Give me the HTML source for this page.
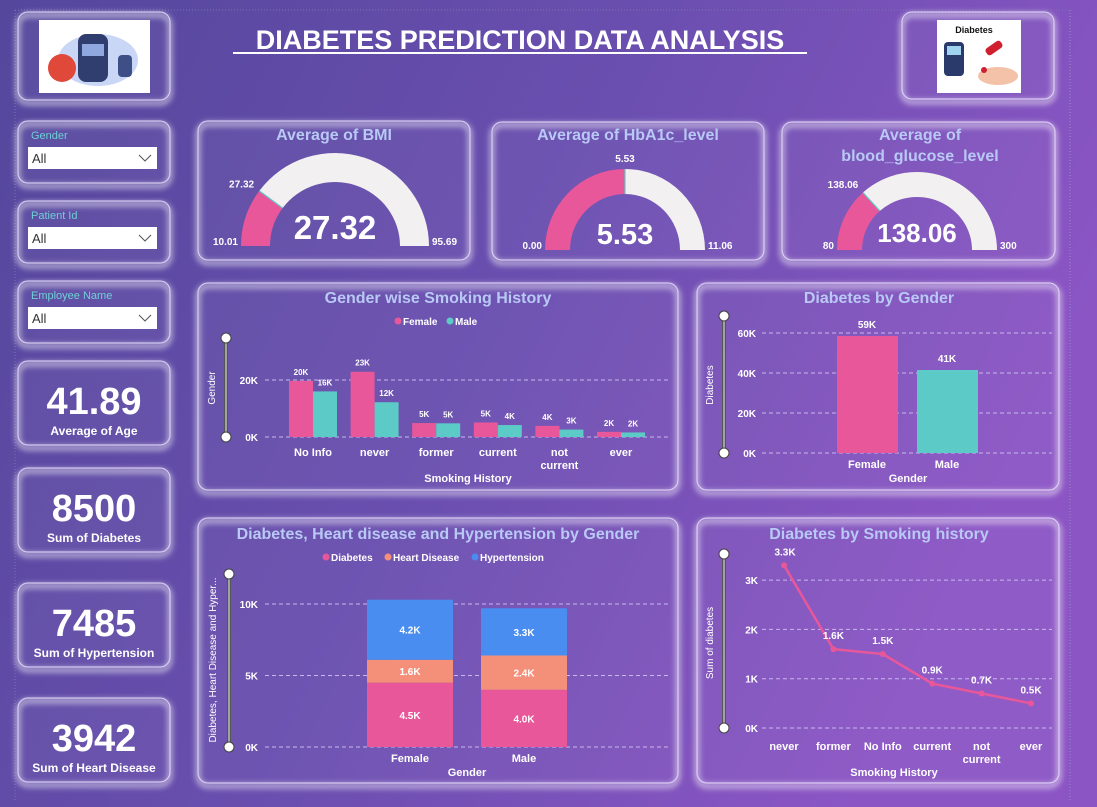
<!DOCTYPE html>
<html><head><meta charset="utf-8"><style>
html,body{margin:0;padding:0;width:1097px;height:807px;overflow:hidden;background:#6a4eb0}
svg{display:block;font-family:"Liberation Sans",Arial,sans-serif}
</style></head><body>
<svg id="s" width="1097" height="807" viewBox="0 0 1097 807">
<defs>
<linearGradient id="bg" x1="0" y1="0" x2="1" y2="0.35">
<stop offset="0" stop-color="#54479c"/><stop offset="0.55" stop-color="#6b4fb0"/><stop offset="1" stop-color="#8b55c4"/></linearGradient>
<filter id="glow" x="-10%" y="-10%" width="120%" height="125%"><feGaussianBlur stdDeviation="3"/></filter>
</defs>
<rect width="1097" height="807" fill="url(#bg)"/>
<line x1="15" y1="10" x2="1070" y2="10" stroke="#7c74b0" stroke-dasharray="1 2"/>
<line x1="15" y1="10" x2="15" y2="800" stroke="#7c74b0" stroke-dasharray="1 2"/>
<line x1="1070" y1="10" x2="1070" y2="800" stroke="#9a88c8" stroke-dasharray="1 2"/>
<g id="cards"></g>
<g id="content"></g>
</svg>
<script>
const NS='http://www.w3.org/2000/svg';
function mk(parent,tag,attrs,text){const e=document.createElementNS(NS,tag);for(const k in attrs)e.setAttribute(k,attrs[k]);if(text!==undefined)e.textContent=text;parent.appendChild(e);return e;}
const cardsG=document.getElementById('cards');const C=document.getElementById('content');
function card(x,y,w,h,name){
 mk(cardsG,'rect',{x:x,y:y+3,width:w,height:h,rx:10,fill:'none',stroke:'rgba(255,255,255,0.55)','stroke-width':5,filter:'url(#glow)'});
 const r=mk(cardsG,'rect',{x:x,y:y,width:w,height:h,rx:10,fill:'rgba(255,255,255,0.04)',stroke:'rgba(235,225,255,0.75)','stroke-width':1.2});
 
 
}
function txt(x,y,s,opts,name){const o=Object.assign({'font-size':11,fill:'#fff','font-weight':'bold','text-anchor':'middle'},opts||{});o.x=x;o.y=y;const t=mk(C,'text',o,s);
 if(name){}return t;}

// cards
card(18,12,152,88,'logo-card');card(902,12,152,87,'diabetes-logo-card');
card(18,121,152,62,'gender-slicer');card(18,201,152,62,'patient-id-slicer');card(18,281,152,62,'employee-name-slicer');
card(18,361,152,84,'age-kpi-card');card(18,468,152,84,'diabetes-kpi-card');card(18,583,152,84,'hypertension-kpi-card');card(18,698,152,84,'heart-disease-kpi-card');
card(198,121,272,139,'bmi-gauge-card');card(492,122,272,138,'hba1c-gauge-card');card(782,122,273,138,'glucose-gauge-card');
card(198,283,480,207,'smoking-chart-card');card(697,283,362,207,'gender-diabetes-card');
card(198,518,480,265,'stacked-chart-card');card(697,518,362,265,'smoking-line-card');

// logos
mk(C,'rect',{x:39,y:20,width:111,height:73,fill:'#fff'});
mk(C,'ellipse',{cx:98,cy:60,rx:40,ry:26,fill:'#c9d6f5'});
mk(C,'circle',{cx:62,cy:68,r:14,fill:'#e0483a'});
mk(C,'rect',{x:78,y:34,width:30,height:48,rx:8,fill:'#2f3e6e'});
mk(C,'rect',{x:82,y:44,width:22,height:12,fill:'#8fa8e0'});
mk(C,'rect',{x:118,y:55,width:14,height:22,rx:4,fill:'#3d4f86'});
mk(C,'rect',{x:937,y:20,width:84,height:73,fill:'#fff'});
txt(974,33,'Diabetes',{'font-size':9,fill:'#111'},'diabetes-logo-text');
mk(C,'rect',{x:944,y:42,width:20,height:34,rx:4,fill:'#2a3a6a'});
mk(C,'rect',{x:947,y:46,width:14,height:9,fill:'#9fd3f0'});
mk(C,'rect',{x:985,y:44,width:18,height:8,rx:3,fill:'#d02030',transform:'rotate(-35 994 48)'});
mk(C,'ellipse',{cx:998,cy:76,rx:20,ry:9,fill:'#f3c2a8'});
mk(C,'circle',{cx:984,cy:70,r:3,fill:'#d02030'});

// title
txt(520,49,'DIABETES PREDICTION DATA ANALYSIS',{'font-size':27},'dashboard-title');
mk(C,'rect',{x:233,y:52,width:574,height:2,fill:'#fff'});

// slicers
function slicer(y,label,name){
 txt(31,y+18,label,{'font-size':11,fill:'#6fd0d6','text-anchor':'start','font-weight':'normal'},name+'-label');
 const b=mk(C,'rect',{x:28,y:y+26,width:129,height:22,fill:'#fff'});
 
 
 txt(32,y+42,'All',{'font-size':13,fill:'#333','text-anchor':'start','font-weight':'normal'});
 mk(C,'polyline',{points:`${139},${y+34} ${145},${y+40} ${151},${y+34}`,fill:'none',stroke:'#555','stroke-width':1});
}
slicer(121,'Gender','gender');slicer(201,'Patient Id','patient-id');slicer(281,'Employee Name','employee-name');

// KPIs
function kpi(y,val,label,name){txt(94,y+53,val,{'font-size':38},name+'-value');txt(94,y+74,label,{'font-size':12},name+'-label');}
kpi(361,'41.89','Average of Age','age');kpi(468,'8500','Sum of Diabetes','diabetes');kpi(583,'7485','Sum of Hypertension','hypertension');kpi(698,'3942','Sum of Heart Disease','heart-disease');

// gauges
const gaugeMin=[10.01,0.00,80];const gaugeMax=[95.69,11.06,300];const gaugeVal=[27.32,5.53,138.06];
const gaugeGeom=[{cx:335,cy:246,RX:94,RY:93,rx:65,ry:64},{cx:625,cy:250,RX:80,RY:81,rx:55,ry:56},{cx:917,cy:250,RX:80,RY:78,rx:55,ry:53}];
function arcPath(g,a0,a1){
 const p=(rx,ry,a)=>[g.cx-rx*Math.cos(a),g.cy-ry*Math.sin(a)];
 const [x0,y0]=p(g.RX,g.RY,a0),[x1,y1]=p(g.RX,g.RY,a1),[x2,y2]=p(g.rx,g.ry,a1),[x3,y3]=p(g.rx,g.ry,a0);
 return `M${x0},${y0} A${g.RX},${g.RY} 0 0 1 ${x1},${y1} L${x2},${y2} A${g.rx},${g.ry} 0 0 0 ${x3},${y3} Z`;}
const gaugeNames=['bmi','hba1c','glucose'];const gaugeTitles=[['Average of BMI'],['Average of HbA1c_level'],['Average of','blood_glucose_level']];
const gaugeFmt=[v=>v.toFixed(2),v=>v.toFixed(2),v=>String(v)];
const titleX=[334,628,920];const valSize=[33,29,26];const valY=[239,244,242];
gaugeVal.forEach((v,i)=>{
 const g=gaugeGeom[i];const f=(v-gaugeMin[i])/(gaugeMax[i]-gaugeMin[i]);const a=f*Math.PI;
 const bgp=mk(C,'path',{d:arcPath(g,a,Math.PI),fill:'#f2f0f0'});
 
 
 const vp=mk(C,'path',{d:arcPath(g,0,a),fill:'#e8579a'});
 
 
 const ex=g.cx-g.RX*Math.cos(a),ey=g.cy-g.RY*Math.sin(a),ix=g.cx-g.rx*Math.cos(a),iy=g.cy-g.ry*Math.sin(a);
 mk(C,'line',{x1:ex,y1:ey,x2:ix,y2:iy,stroke:'#5ccac6','stroke-width':1.2});
 const t=gaugeTitles[i];
 t.forEach((l,j)=>txt(titleX[i],140+j*21,l,{'font-size':16,fill:'#b9c9f5'},gaugeNames[i]+'-title'));
 const minDp=i==2?String(gaugeMin[i]):gaugeMin[i].toFixed(2);const maxDp=i==2?String(gaugeMax[i]):gaugeMax[i].toFixed(2);
 txt(g.cx-g.RX-3,g.cy-1,minDp,{'font-size':10,'text-anchor':'end'},gaugeNames[i]+'-min');
 txt(g.cx+g.RX+3,g.cy-1,maxDp,{'font-size':10,'text-anchor':'start'},gaugeNames[i]+'-max');
 const mid=f>0.45&&f<0.55;
 const lx=g.cx-(g.RX+4)*Math.cos(a),ly=g.cy-(g.RY+6)*Math.sin(a);
 txt(mid?lx:lx-2,mid?ly-1:ly,gaugeFmt[i](v),{'font-size':10,'text-anchor':mid?'middle':'end'},gaugeNames[i]+'-target');
 txt(g.cx,valY[i],gaugeFmt[i](v),{'font-size':valSize[i]},gaugeNames[i]+'-center-value');
});

// helper for slider axis decoration
function slider(x,y0,y1){mk(C,'line',{x1:x,y1:y0,x2:x,y2:y1,stroke:'#555','stroke-width':4});mk(C,'line',{x1:x,y1:y0,x2:x,y2:y1,stroke:'#bbb','stroke-width':1.5});
 mk(C,'circle',{cx:x,cy:y0,r:5,fill:'#fff',stroke:'#444'});mk(C,'circle',{cx:x,cy:y1,r:5,fill:'#fff',stroke:'#444'});}
function legendDot(x,y,color,label,name){mk(C,'circle',{cx:x,cy:y-4,r:3.5,fill:color});txt(x+5,y,label,{'font-size':10,'text-anchor':'start'},name);}

// Chart 1: gender-wise smoking history
const smokeCats=['No Info','never','former','current','not current','ever'];
const smokeFemale=[19.7,22.9,4.9,5.1,3.9,1.8];
const smokeMale=[16.0,12.2,4.8,4.2,2.6,1.6];
const smokeFemaleLbl=['20K','23K','5K','5K','4K','2K'];
const smokeMaleLbl=['16K','12K','5K','4K','3K','2K'];
const smokeTicks=[0,20];
{
 const y=v=>437-v*2.85;const xc=i=>313+i*61.6;
 txt(438,303,'Gender wise Smoking History',{'font-size':16,fill:'#b9c9f5'},'smoking-chart-title');
 legendDot(398,325,'#e8579a','Female','legend-female');legendDot(450,325,'#5ccac6','Male','legend-male');
 slider(226,338,437);
 txt(0,0,'Gender',{'font-size':10,'font-weight':'normal',transform:'translate(215,388) rotate(-90)'},'smoking-y-axis-title');
 smokeTicks.forEach(t=>{mk(C,'line',{x1:265,x2:668,y1:y(t),y2:y(t),stroke:'#c9b8ee','stroke-dasharray':'4 3','stroke-width':1});txt(258,y(t)+4,t+'K',{'font-size':10,'text-anchor':'end'},'smoking-y-tick');});
 smokeCats.forEach((c,i)=>{
  const bf=mk(C,'rect',{x:xc(i)-24,y:y(smokeFemale[i]),width:24,height:smokeFemale[i]*2.85,fill:'#e8579a'});
  
  
  const bm=mk(C,'rect',{x:xc(i),y:y(smokeMale[i]),width:24,height:smokeMale[i]*2.85,fill:'#5ccac6'});
  
  
  txt(xc(i)-12,y(smokeFemale[i])-6,smokeFemaleLbl[i],{'font-size':8});
  txt(xc(i)+12,y(smokeMale[i])-6,smokeMaleLbl[i],{'font-size':8});
  const parts=c==='not current'?['not','current']:[c];
  parts.forEach((p,j)=>txt(xc(i),456+j*13,p,{'font-size':11},'smoking-x-label'));
 });
 txt(468,482,'Smoking History',{'font-size':11},'smoking-x-axis-title');
}

// Chart 2: diabetes by gender
const dgCats=['Female','Male'];const dgVals=[58.5,41.5];const dgLbls=['59K','41K'];const dgTicks=[0,20,40,60];
{
 const y=v=>453-v*2;const xs=[837,917];const cols=['#e8579a','#5ccac6'];
 txt(879,303,'Diabetes by Gender',{'font-size':16,fill:'#b9c9f5'},'gender-diabetes-title');
 slider(724,316,453);
 txt(0,0,'Diabetes',{'font-size':10,'font-weight':'normal',transform:'translate(713,385) rotate(-90)'},'gender-diabetes-y-title');
 dgTicks.forEach(t=>{mk(C,'line',{x1:762,x2:1052,y1:y(t),y2:y(t),stroke:'#c9b8ee','stroke-dasharray':'4 3'});txt(756,y(t)+4,t+'K',{'font-size':10,'text-anchor':'end'},'gender-diabetes-y-tick');});
 dgCats.forEach((c,i)=>{const r=mk(C,'rect',{x:xs[i],y:y(dgVals[i]),width:61,height:dgVals[i]*2,fill:cols[i]});
  
  
  txt(xs[i]+30,y(dgVals[i])-8,dgLbls[i],{'font-size':10});txt(xs[i]+30,468,c,{'font-size':11},'gender-diabetes-x-label');});
 txt(908,482,'Gender',{'font-size':11},'gender-diabetes-x-title');
}

// Chart 3: stacked
const stCats=['Female','Male'];
const stDiabetes=[4.5,4.0];const stHeart=[1.6,2.4];const stHyper=[4.2,3.3];
const stTicks=[0,5,10];
{
 const k=14.3;const y=v=>747-v*k;const xs=[367,481];
 txt(438,539,'Diabetes, Heart disease and Hypertension by Gender',{'font-size':16,fill:'#b9c9f5'},'stacked-chart-title');
 legendDot(326,561,'#e8579a','Diabetes','legend-diabetes');legendDot(388,561,'#f4907a','Heart Disease','legend-heart-disease');legendDot(475,561,'#4a8df0','Hypertension','legend-hypertension');
 slider(229,574,747);
 txt(0,0,'Diabetes, Heart Disease and Hyper...',{'font-size':10,'font-weight':'normal',transform:'translate(216,660) rotate(-90)'},'stacked-y-title');
 stTicks.forEach(t=>{mk(C,'line',{x1:265,x2:668,y1:y(t),y2:y(t),stroke:'#c9b8ee','stroke-dasharray':'4 3'});txt(258,y(t)+4,t+'K',{'font-size':10,'text-anchor':'end'},'stacked-y-tick');});
 stCats.forEach((c,i)=>{
  const segs=[[stDiabetes[i],'#e8579a','diabetes'],[stHeart[i],'#f4907a','heart'],[stHyper[i],'#4a8df0','hypertension']];let base=0;
  segs.forEach(s=>{const r=mk(C,'rect',{x:xs[i],y:y(base+s[0]),width:86,height:s[0]*k,fill:s[1]});
   
   
   txt(xs[i]+43,y(base+s[0]/2)+4,s[0].toFixed(1)+'K',{'font-size':10});base+=s[0];});
  txt(xs[i]+43,762,c,{'font-size':11},'stacked-x-label');
 });
 txt(467,776,'Gender',{'font-size':11},'stacked-x-title');
}

// Chart 4: line
const lnCats=['never','former','No Info','current','not current','ever'];
const lnVals=[3.3,1.6,1.5,0.9,0.7,0.5];const lnLbls=['3.3K','1.6K','1.5K','0.9K','0.7K','0.5K'];const lnTicks=[0,1,2,3];
{
 const y=v=>728-v*49.3;const x=i=>784+i*49.4;
 txt(879,539,'Diabetes by Smoking history',{'font-size':16,fill:'#b9c9f5'},'smoking-line-title');
 slider(724,554,728);
 txt(0,0,'Sum of diabetes',{'font-size':10,'font-weight':'normal',transform:'translate(713,643) rotate(-90)'},'smoking-line-y-title');
 lnTicks.forEach(t=>{mk(C,'line',{x1:762,x2:1052,y1:y(t),y2:y(t),stroke:'#c9b8ee','stroke-dasharray':'4 3'});txt(758,y(t)+4,t+'K',{'font-size':10,'text-anchor':'end'},'smoking-line-y-tick');});
 const pl=mk(C,'polyline',{points:lnVals.map((v,i)=>x(i)+','+y(v)).join(' '),fill:'none',stroke:'#e8579a','stroke-width':2.5});
 
 
 lnVals.forEach((v,i)=>{const c=mk(C,'circle',{cx:x(i),cy:y(v),r:3,fill:'#e8579a'});
  
  
  txt(x(i)+(i==0?1:0),y(v)-10,lnLbls[i],{'font-size':10});
  const parts=lnCats[i]==='not current'?['not','current']:[lnCats[i]];
  parts.forEach((p,j)=>txt(x(i),750+j*13,p,{'font-size':11},'smoking-line-x-label'));});
 txt(894,776,'Smoking History',{'font-size':11},'smoking-line-x-title');
}
</script>
</body></html>
